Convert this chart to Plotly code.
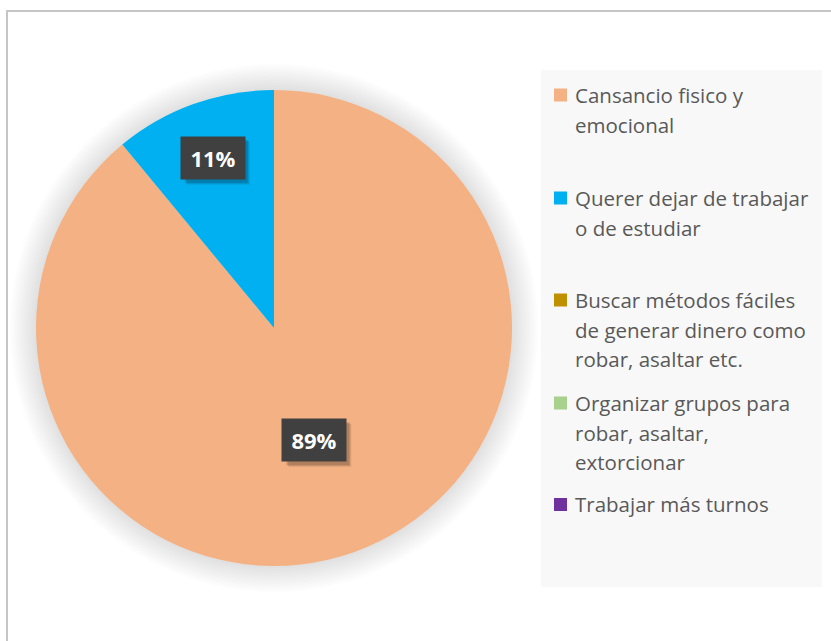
import math
import plotly.graph_objects as go

# ---- data ----
categories = [
    "Cansancio fisico y emocional",
    "Querer dejar de trabajar o de estudiar",
    "Buscar métodos fáciles de generar dinero como robar, asaltar etc.",
    "Organizar grupos para robar, asaltar, extorcionar",
    "Trabajar más turnos",
]
legend_lines = [
    ["Cansancio fisico y", "emocional"],
    ["Querer dejar de trabajar", "o de estudiar"],
    ["Buscar métodos fáciles", "de generar dinero como", "robar, asaltar etc."],
    ["Organizar grupos para", "robar, asaltar,", "extorcionar"],
    ["Trabajar más turnos"],
]
values = [89, 11, 0, 0, 0]
colors = ["#F4B183", "#00B0F0", "#BF9000", "#A9D18E", "#7030A0"]

# ---- layout geometry (pixels) ----
W, H = 831, 641
def px(x):
    return x / W
def py(y):
    return 1 - y / H

pie_left, pie_right, pie_top, pie_bottom = 36, 512, 90, 566
cx = (pie_left + pie_right) / 2
cy = (pie_top + pie_bottom) / 2
R = (pie_right - pie_left) / 2

FONT = "Open Sans, Liberation Sans, Arial, sans-serif"

fig = go.Figure()
fig.add_trace(go.Pie(
    labels=categories,
    values=values,
    marker=dict(colors=colors, line=dict(width=0)),
    sort=False,
    direction="clockwise",
    rotation=0,
    textinfo="none",
    hoverinfo="label+percent",
    showlegend=False,
    domain=dict(x=[px(pie_left), px(pie_right)], y=[py(pie_bottom), py(pie_top)]),
))

shapes = []
# outer border of chart area
shapes.append(dict(type="rect", xref="paper", yref="paper",
                   x0=px(7), x1=px(W + 20), y0=py(H + 20), y1=py(11),
                   line=dict(color="#C6C6C6", width=2), fillcolor="rgba(0,0,0,0)", layer="below"))
# soft shadow around pie
for k in range(10, 0, -1):
    r = R + 2.6 * k
    shapes.append(dict(type="circle", xref="paper", yref="paper",
                       x0=px(cx - r), x1=px(cx + r), y0=py(cy + r), y1=py(cy - r),
                       line=dict(width=0), fillcolor="rgba(0,0,0,0.011)", layer="below"))
# legend panel
shapes.append(dict(type="rect", xref="paper", yref="paper",
                   x0=px(541), x1=px(822), y0=py(587), y1=py(70),
                   line=dict(width=0), fillcolor="#F8F8F8", layer="below"))

annotations = []
# data labels (percent) placed at slice mid-angles
total = sum(values)
label_radius = [0.5, 0.76, 0.6, 0.6, 0.6]
box_w, box_h = 64, 42
cum = 0
for i, v in enumerate(values):
    if v > 0:
        theta = math.radians((cum + v / 2) / total * 360)
        lx = cx + R * label_radius[i] * math.sin(theta)
        ly = cy - R * label_radius[i] * math.cos(theta)
        txt = f"{round(v / total * 100)}%"
        # soft drop shadow of the label box
        for s, a in [(6, 0.08), (5, 0.10), (4, 0.12)]:
            shapes.append(dict(type="rect", xref="paper", yref="paper", layer="above",
                               x0=px(lx - box_w / 2 + s), x1=px(lx + box_w / 2 + s - 1),
                               y0=py(ly + box_h / 2 + s), y1=py(ly - box_h / 2 + s - 1),
                               line=dict(width=0), fillcolor=f"rgba(0,0,0,{a})"))
        annotations.append(dict(x=px(lx), y=py(ly), xref="paper", yref="paper",
                                xanchor="center", yanchor="middle",
                                text=f"<b>{txt}</b>", showarrow=False,
                                font=dict(family=FONT, size=22, color="#FFFFFF"),
                                bgcolor="#404040", width=box_w - 4, height=box_h - 4, borderpad=2))
    cum += v

# legend (custom, equally spaced slots like the original)
first_line_y = [95, 198, 300, 403, 504.5]
line_gap = 29.7
for i, lines in enumerate(legend_lines):
    y0 = first_line_y[i]
    shapes.append(dict(type="rect", xref="paper", yref="paper",
                       x0=px(554), x1=px(567), y0=py(y0 + 6.5), y1=py(y0 - 6.5),
                       line=dict(width=0), fillcolor=colors[i]))
    for j, t in enumerate(lines):
        annotations.append(dict(x=px(573), y=py(y0 + j * line_gap), xref="paper", yref="paper",
                                text=t, showarrow=False, xanchor="left", yanchor="middle",
                                font=dict(family=FONT, size=20.5, color="#595959")))

fig.update_layout(
    width=W, height=H,
    margin=dict(l=0, r=0, t=0, b=0),
    paper_bgcolor="#FFFFFF",
    plot_bgcolor="#FFFFFF",
    shapes=shapes,
    annotations=annotations,
    showlegend=False,
)

fig.write_html("out.html", config=dict(displayModeBar=False),
               post_script="document.body.style.margin='0px';")
